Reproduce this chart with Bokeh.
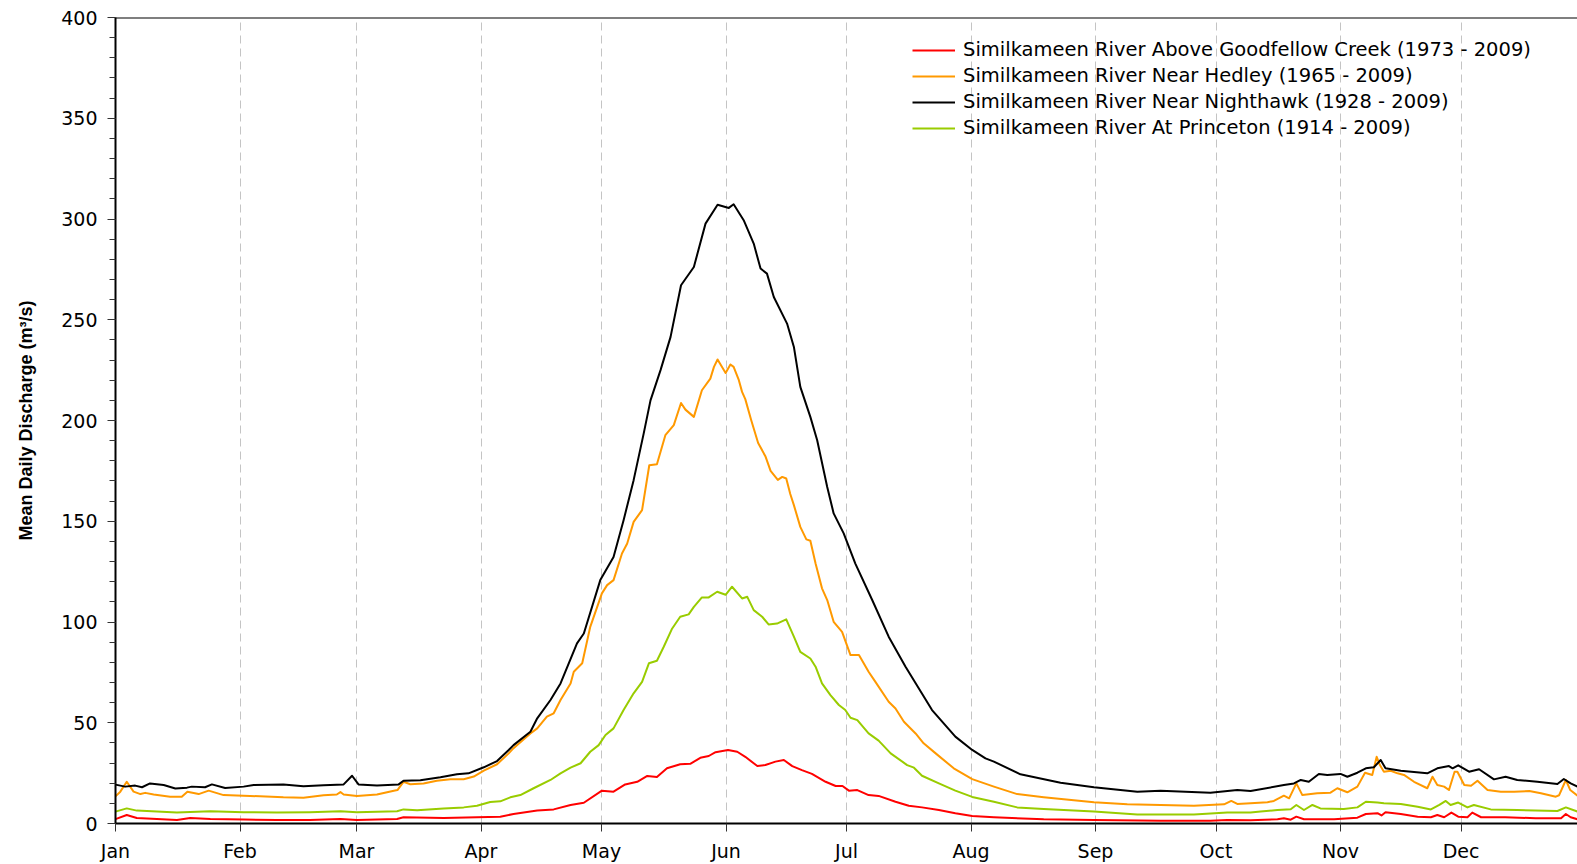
from bokeh.plotting import figure
from bokeh.models import FixedTicker, Range1d, Span, Legend, LegendItem
from bokeh.embed import file_html
from bokeh.resources import INLINE

# ---- data (day of year, leap-year calendar; mean daily discharge m3/s) ----
month_start = [0, 31, 60, 91, 121, 152, 182, 213, 244, 274, 305, 335]
month_name = ["Jan", "Feb", "Mar", "Apr", "May", "Jun",
              "Jul", "Aug", "Sep", "Oct", "Nov", "Dec"]

goodfellow_day = [0, 2.8, 5.3, 10.3, 15.3, 18.6, 23.6, 31.9, 40.2, 48.4,
                  56, 60.1, 70.1, 71.7, 81.7, 90, 95.8, 99.1, 105, 109.1,
                  113.3, 116.6, 121.1, 124, 126.9, 129.9, 132.4, 134.8, 137.3, 140.6,
                  143.1, 145.6, 147.7, 149.4, 152.5, 154.8, 156.8, 159.8, 161.8, 164.3,
                  166.4, 168.5, 170.9, 173.4, 176.8, 179.3, 181, 182.6, 184.7, 187.5,
                  190, 194.2, 197.5, 200.8, 205, 209.1, 213.3, 218.7, 231.1, 243.6,
                  260.2, 272.6, 276.8, 282.6, 289.3, 290.9, 292.6, 294, 295.9, 303.4,
                  309.2, 311.3, 314.2, 315.2, 316.2, 320, 324.2, 327.5, 329.1, 330.8,
                  332.6, 334.3, 336.6, 337.8, 340, 346, 353.6, 359.9, 361.1, 362.3,
                  364]
goodfellow_q = [2.2, 4.2, 2.7, 2.2, 1.7, 2.7, 2.2, 2.0, 1.7, 1.7,
                2.2, 1.7, 2.2, 3.1, 2.7, 3.1, 3.4, 4.7, 6.4, 7.0,
                9.2, 10.3, 16.3, 15.8, 19.4, 20.7, 23.6, 23.1, 27.4, 29.4,
                29.6, 32.6, 33.5, 35.4, 36.5, 35.6, 33.1, 28.5, 29.0, 30.7,
                31.5, 28.5, 26.5, 24.6, 20.7, 18.6, 18.6, 16.3, 16.6, 14.1,
                13.7, 10.8, 8.8, 8.0, 6.7, 5.1, 3.7, 3.1, 2.1, 1.7,
                1.4, 1.4, 1.7, 1.6, 2.1, 2.6, 1.9, 3.4, 2.1, 2.1,
                2.9, 4.7, 5.1, 4.0, 5.6, 4.7, 3.4, 3.1, 4.2, 3.1,
                5.4, 3.4, 3.1, 5.4, 3.1, 3.1, 2.6, 2.6, 4.7, 3.1,
                2.1]

hedley_day = [0, 1.2, 2.8, 4.5, 6.2, 7.4, 9.5, 13.6, 16.5, 17.9,
              20.7, 23.2, 26.9, 33.5, 41.8, 46.8, 51.8, 55.1, 56, 56.8,
              60.1, 65.1, 69.3, 70.2, 71.7, 73.4, 76.7, 80, 83.4, 86.7,
              89.2, 91.7, 95, 97.9, 99.1, 103.3, 105, 107.4, 109.1, 110.8,
              113.3, 114.1, 116.2, 118.2, 121.1, 122.4, 124, 126.1, 127.4, 129,
              131.1, 132.9, 134.8, 136.9, 139, 140.8, 141.9, 144, 146, 148.1,
              149, 149.9, 151.9, 153.1, 153.9, 155.2, 156, 156.8, 158.3, 160,
              161.8, 163.1, 164.9, 166, 167, 168, 168.9, 170.5, 172, 173,
              174.3, 175.9, 177.2, 178.8, 180.9, 183, 185.1, 187.5, 189.2, 192.5,
              194.2, 196.3, 199.2, 201.2, 204.2, 208.7, 213.3, 218.7, 224.5, 231.1,
              243.6, 251.9, 268.5, 276, 277.8, 279.3, 282.6, 286.8, 288.4, 290.9,
              292.2, 294, 295.5, 299.2, 302.5, 304.2, 306.7, 309.2, 311.1, 312.9,
              314, 314.8, 315.8, 317.5, 319.2, 320.8, 323.3, 326.6, 327.9, 329.1,
              330.8, 332, 333.4, 334.1, 335.8, 337.5, 339.1, 341.6, 344.9, 348.2,
              352, 354.9, 358.6, 359.4, 361.1, 362.2, 364]
hedley_q = [13.5, 15.8, 20.7, 15.8, 14.6, 15.2, 14.4, 13.3, 13.3, 15.8,
            14.6, 16.3, 14.1, 13.7, 13.0, 12.8, 14.0, 14.4, 15.6, 14.4,
            13.7, 14.4, 16.3, 16.6, 20.7, 19.5, 19.8, 21.2, 22.0, 22.0,
            23.3, 26.2, 29.4, 34.8, 37.4, 44.7, 47.2, 53.0, 54.7, 61.3,
            69.5, 75.3, 79.5, 97.6, 114.2, 118.3, 120.8, 134.0, 139.0, 149.7,
            155.5, 177.8, 178.3, 192.7, 197.7, 208.7, 205.4, 201.8, 215.0, 220.8,
            226.6, 230.3, 223.6, 227.8, 226.6, 220.0, 214.2, 210.6, 200.0, 188.8,
            182.3, 175.0, 170.5, 172.0, 171.2, 163.5, 158.0, 147.2, 141.0, 140.3,
            129.0, 116.7, 110.9, 100.1, 95.1, 83.6, 83.6, 75.3, 70.3, 60.4,
            57.1, 50.5, 44.7, 39.8, 34.8, 27.4, 22.0, 18.3, 14.6, 13.0,
            10.5, 9.5, 8.8, 9.5, 11.2, 9.7, 10.0, 10.5, 11.2, 13.8,
            12.5, 19.9, 14.1, 15.0, 15.3, 17.5, 15.5, 18.3, 25.2, 24.1,
            33.1, 29.0, 25.7, 26.2, 24.9, 24.1, 20.7, 17.5, 23.2, 19.1,
            18.3, 16.6, 25.7, 25.7, 19.1, 18.7, 21.2, 16.6, 15.8, 15.8,
            16.1, 15.0, 13.3, 14.0, 21.6, 16.6, 13.8]

nighthawk_day = [0, 2.4, 4.9, 6.6, 8.6, 12, 14.9, 17.8, 19, 22.3,
                 24, 27.3, 31.9, 34.4, 41.8, 46.8, 51.8, 56.8, 58.9, 60.5,
                 65.1, 70.5, 71.7, 75.9, 80.9, 85, 87.9, 91.7, 95, 97.9,
                 99.1, 103.3, 105, 108.3, 110.8, 114.9, 116.6, 120.7, 124, 126.5,
                 129, 131.5, 133.2, 135.7, 138.2, 140.8, 144, 146.9, 149.9, 152.7,
                 153.9, 156.4, 158.9, 160.6, 162.2, 163.9, 167.2, 168.9, 170.5, 173,
                 174.7, 177.2, 178.8, 181.3, 184.2, 188.4, 192.5, 196.7, 203.3, 209.1,
                 213.3, 216.6, 218.7, 225.3, 235.3, 243.6, 254.4, 260.2, 272.6, 279.3,
                 282.6, 290.9, 293.4, 295.1, 297.1, 299.6, 301.7, 305, 306.7, 309.2,
                 311.3, 313.3, 315, 316.2, 320, 326.6, 329.1, 332, 332.9, 334.3,
                 337, 339.5, 343.2, 346.1, 349, 354, 359, 360.6, 362.3, 364]
nighthawk_q = [19.3, 18.3, 18.8, 18.0, 19.9, 19.1, 17.4, 17.8, 18.3, 18.0,
               19.4, 17.6, 18.3, 19.1, 19.4, 18.5, 19.0, 19.4, 23.7, 19.4,
               18.8, 19.4, 21.2, 21.5, 22.9, 24.4, 24.9, 27.9, 31.0, 36.5,
               38.9, 45.5, 52.2, 61.3, 69.5, 89.4, 94.3, 120.8, 132.3, 150.5,
               170.4, 193.5, 210.0, 225.0, 241.5, 267.1, 276.2, 297.7, 307.1, 305.5,
               307.3, 299.4, 287.8, 275.4, 272.9, 261.3, 248.1, 236.5, 216.7, 201.8,
               190.2, 167.0, 153.9, 144.0, 129.0, 110.9, 92.7, 77.8, 56.3, 43.1,
               36.5, 32.3, 30.7, 24.4, 20.2, 18.0, 15.8, 16.3, 15.3, 16.6,
               16.1, 19.1, 19.9, 21.6, 20.7, 24.6, 24.1, 24.6, 23.2, 25.2,
               27.4, 27.9, 31.5, 27.4, 26.2, 24.9, 27.4, 28.5, 27.4, 28.9,
               25.7, 26.9, 21.9, 23.2, 21.6, 20.7, 19.6, 22.1, 19.9, 18.3]

princeton_day = [0, 2.8, 5.3, 10.3, 15.3, 23.6, 31.9, 40.2, 48.4, 56,
                 60.1, 70.1, 71.7, 75.1, 81.7, 86.7, 90, 93.3, 95.8, 98.3,
                 100.8, 104.1, 108.3, 110.8, 113.3, 115.8, 118.2, 120.3, 122, 124,
                 126.5, 129, 131.1, 132.8, 134.8, 136.5, 138.6, 140.6, 142.7, 144,
                 146, 147.7, 149.8, 151.9, 153.5, 156, 157.3, 158.9, 161, 162.6,
                 164.7, 167, 168.9, 170.5, 173, 174.3, 175.9, 178, 180.1, 181.7,
                 183, 184.7, 187.5, 190, 193, 197.1, 198.8, 200.8, 205, 209.1,
                 213.3, 218.7, 224.5, 231.1, 243.6, 254.4, 268.5, 276.8, 282.6, 285.1,
                 289.3, 292.6, 294, 295.9, 298, 300, 305.8, 309.2, 311.3, 314.2,
                 315.8, 320, 324.2, 327.5, 329.6, 331.2, 332.4, 334.3, 336.6, 338.2,
                 342.4, 349, 359, 361.1, 364]
princeton_q = [5.9, 7.5, 6.4, 5.9, 5.4, 6.1, 5.6, 5.4, 5.6, 6.1,
               5.6, 6.1, 7.0, 6.6, 7.5, 8.0, 8.8, 10.7, 11.0, 13.0,
               14.1, 17.5, 21.6, 24.9, 27.7, 29.9, 35.6, 38.9, 43.9, 47.2,
               56.3, 64.6, 70.3, 79.5, 80.8, 87.7, 96.8, 102.6, 103.8, 107.5,
               112.2, 112.2, 115.0, 113.5, 117.5, 111.7, 112.5, 105.9, 102.6, 98.8,
               99.2, 101.3, 92.7, 85.2, 81.9, 77.8, 69.5, 63.7, 58.8, 56.3,
               52.5, 51.3, 44.7, 41.1, 34.8, 29.0, 27.7, 23.7, 19.9, 16.3,
               13.2, 10.8, 8.0, 7.2, 5.9, 4.5, 4.5, 5.4, 5.5, 5.9,
               6.7, 7.1, 9.2, 6.7, 9.2, 7.5, 7.2, 8.0, 10.8, 10.4,
               10.0, 9.7, 8.3, 7.0, 9.2, 11.2, 9.2, 10.4, 8.0, 9.2,
               7.0, 6.7, 6.2, 8.0, 5.9]

series = [
    ("Similkameen River Above Goodfellow Creek (1973 - 2009)", goodfellow_day, goodfellow_q, "#FF0000"),
    ("Similkameen River Near Hedley (1965 - 2009)", hedley_day, hedley_q, "#FF9900"),
    ("Similkameen River Near Nighthawk (1928 - 2009)", nighthawk_day, nighthawk_q, "#000000"),
    ("Similkameen River At Princeton (1914 - 2009)", princeton_day, princeton_q, "#99CC00"),
]

TICK_FONT = "DejaVu Sans"

p = figure(width=1577, height=864, output_backend="svg", toolbar_location=None,
           x_range=Range1d(0, 364.0), y_range=Range1d(0, 400),
           min_border_left=115, min_border_right=0, min_border_top=17,
           min_border_bottom=36)
p.outline_line_color = None
p.background_fill_color = "white"

items = []
for label, d, q, color in series:
    n = min(len(d), len(q))
    r = p.line(d[:n], q[:n], line_color=color, line_width=2, line_join="round")
    items.append(LegendItem(label=label, renderers=[r]))

# grid
p.ygrid.grid_line_color = None
p.xgrid.ticker = FixedTicker(ticks=month_start[1:])
p.xgrid.grid_line_color = "#C4C4C4"
p.xgrid.grid_line_dash = "8 5"
p.xgrid.grid_line_width = 1

# top border line
p.add_layout(Span(location=400, dimension="width", line_color="black", line_width=2))

# x axis
xa = p.xaxis[0]
xa.ticker = FixedTicker(ticks=month_start)
xa.major_label_overrides = {m: n for m, n in zip(month_start, month_name)}
xa.axis_line_width = 2
xa.axis_line_color = "black"
xa.major_tick_out = 8
xa.major_tick_in = 0
xa.major_tick_line_color = "#333333"
xa.minor_tick_line_color = None
xa.major_label_text_font = TICK_FONT
xa.major_label_text_font_size = "19px"
xa.major_label_text_color = "black"
xa.major_label_standoff = 8

# y axis
ya = p.yaxis[0]
ya.ticker = FixedTicker(ticks=list(range(0, 401, 50)), minor_ticks=list(range(0, 401, 10)))
ya.axis_line_width = 2
ya.axis_line_color = "black"
ya.major_tick_out = 8
ya.major_tick_in = 0
ya.minor_tick_out = 6
ya.minor_tick_in = 0
ya.major_tick_line_color = "#333333"
ya.minor_tick_line_color = "#333333"
ya.major_label_text_font = TICK_FONT
ya.major_label_text_font_size = "19px"
ya.major_label_text_color = "black"
ya.major_label_standoff = 10
ya.axis_label = "Mean Daily Discharge (m³/s)"
ya.axis_label_text_font = "Liberation Sans"
ya.axis_label_text_font_style = "bold"
ya.axis_label_text_font_size = "18px"
ya.axis_label_text_color = "black"
ya.axis_label_standoff = 22

legend = Legend(items=items, location=(797, 684))
legend.border_line_color = None
legend.background_fill_alpha = 0
legend.padding = 0
legend.margin = 0
legend.spacing = 3
legend.glyph_height = 20
legend.glyph_width = 43
legend.label_height = 20
legend.label_standoff = 8
legend.label_text_font = TICK_FONT
legend.label_text_font_size = "19.5px"
legend.label_text_color = "black"
p.add_layout(legend)

open("out.html", "w").write(file_html(p, INLINE))
